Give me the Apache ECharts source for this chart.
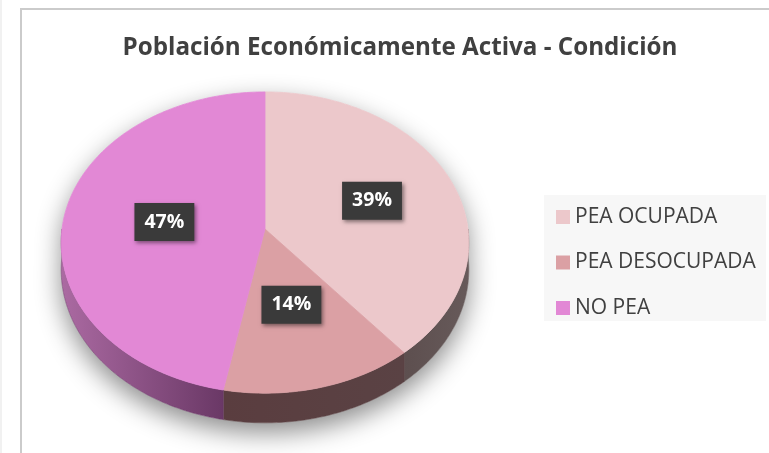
<!DOCTYPE html>
<html>
<head>
<meta charset="utf-8">
<script src="https://cdn.jsdelivr.net/npm/echarts@6/dist/echarts.min.js"></script>
<style>
  html, body { margin: 0; padding: 0; background: #ffffff; }
  #chart { width: 769px; height: 453px; }
</style>
</head>
<body>
<div id="chart"></div>
<script>
// Data
const titleText = 'Población Económicamente Activa - Condición';
const categories = ['PEA OCUPADA', 'PEA DESOCUPADA', 'NO PEA'];
const shares = [39, 14, 47];

// Styling
const topColors = ['#ecc8cb', '#dba0a4', '#e288d5'];
const sideColors = [['#5d4f4f', '#675a5a'], ['#5a3d3f', '#5a4244'], ['#ab6aa2', '#6a3866']];
const labelRadius = [0.57, 0.5, 0.5];

// Tilted disc geometry (pixels): centre, radii, perspective factor, thickness
const DISC = { cx: 265, cy: 229, rx: 203, ry: 149.4, k: 0.09, depth: 27 };

const total = shares.reduce((a, b) => a + b, 0);

function project(theta, rho, drop) {
  const u = rho * Math.cos(theta), v = rho * Math.sin(theta);
  const f = 1 / (1 + DISC.k * v);
  return [DISC.cx + DISC.rx * u * f, DISC.cy - DISC.ry * v * f + DISC.depth * drop * f];
}

function arcPoints(a0, a1, rho, drop) {
  const n = Math.max(4, Math.ceil(Math.abs(a1 - a0) / 0.02));
  const pts = [];
  for (let i = 0; i <= n; i++) pts.push(project(a0 + (a1 - a0) * i / n, rho, drop));
  return pts;
}

// Slice angles: start at 12 o'clock, clockwise
function sliceAngles(idx) {
  let cum = 0;
  for (let i = 0; i < idx; i++) cum += shares[i];
  const start = Math.PI / 2 - 2 * Math.PI * cum / total;
  const end = start - 2 * Math.PI * shares[idx] / total;
  return [start, end];
}

function sliceRenderer(idx) {
  return function (params, api) {
    const [start, end] = sliceAngles(idx);
    const children = [];
    // visible rim (front half of the disc)
    const lo = Math.max(end, -Math.PI), hi = Math.min(start, 0);
    if (lo < hi) {
      const topRim = arcPoints(hi, lo, 1, 0);
      const botRim = arcPoints(lo, hi, 1, 1);
      const xs = topRim.map(p => p[0]);
      children.push({
        type: 'polygon',
        shape: { points: topRim.concat(botRim) },
        style: {
          fill: new echarts.graphic.LinearGradient(Math.min(...xs), 0, Math.max(...xs), 0, [
            { offset: 0, color: sideColors[idx][0] },
            { offset: 1, color: sideColors[idx][1] }
          ], true),
          stroke: sideColors[idx][1], lineWidth: 0.5
        }
      });
    }
    // top face
    const face = [project(0, 0, 0)].concat(arcPoints(start, end, 1, 0));
    children.push({
      type: 'polygon',
      shape: { points: face },
      style: { fill: topColors[idx], stroke: topColors[idx], lineWidth: 0.8 }
    });
    // value label
    const mid = (start + end) / 2;
    const lp = project(mid, labelRadius[idx], 0);
    children.push({
      type: 'text',
      x: lp[0], y: lp[1],
      z2: 10,
      style: {
        text: shares[idx] + '%',
        fill: '#ffffff',
        font: 'bold 19.5px "Open Sans", sans-serif',
        align: 'center', verticalAlign: 'middle',
        lineHeight: 24,
        backgroundColor: '#3a3a3a',
        padding: [7, 10],
        shadowBlur: 4, shadowColor: 'rgba(0,0,0,0.45)', shadowOffsetX: 2, shadowOffsetY: 2
      }
    });
    return { type: 'group', children };
  };
}

// soft shadow under the whole disc
function shadowRenderer() {
  const top = arcPoints(0, Math.PI, 1, 0);
  const bottom = arcPoints(Math.PI, 2 * Math.PI, 1, 1);
  return {
    type: 'polygon',
    shape: { points: top.concat(bottom) },
    style: { fill: '#ffffff', shadowBlur: 26, shadowColor: 'rgba(0,0,0,0.45)', shadowOffsetY: 10 }
  };
}

const series = [{
  type: 'custom', name: 'base', z: 1, silent: true, coordinateSystem: 'none',
  data: [0], renderItem: shadowRenderer
}].concat(categories.map((name, i) => ({
  type: 'custom', name, z: 2, coordinateSystem: 'none',
  itemStyle: { color: topColors[i] },
  data: [shares[i]],
  renderItem: sliceRenderer(i)
})));

const chart = echarts.init(document.getElementById('chart'), null, { renderer: 'canvas' });
chart.setOption({
  animation: false,
  backgroundColor: '#ffffff',
  color: topColors,
  title: {
    text: titleText,
    left: 400, top: 36, padding: 0, textAlign: 'center',
    textStyle: { fontFamily: '"Open Sans", sans-serif', fontWeight: 'bold', fontSize: 24.2, color: '#404040' }
  },
  legend: {
    data: categories,
    orient: 'vertical',
    left: 556, top: 206, padding: 0,
    itemWidth: 14, itemHeight: 14, itemGap: 23.5,
    icon: 'rect',
    selectedMode: false,
    textStyle: { fontFamily: '"Open Sans", sans-serif', fontSize: 21, color: '#404040', lineHeight: 22 }
  },
  graphic: [
    { type: 'line', shape: { x1: 1, y1: 0, x2: 1, y2: 453 }, style: { stroke: '#ececec', lineWidth: 1.5 }, z: -10 },
    { type: 'rect', shape: { x: 21, y: 9, width: 800, height: 500 }, style: { fill: 'none', stroke: '#cbcbcb', lineWidth: 2 }, z: -10 },
    { type: 'rect', shape: { x: 544, y: 195, width: 222, height: 126 }, style: { fill: '#f7f7f7' }, z: -10 }
  ],
  series
});
</script>
</body>
</html>
